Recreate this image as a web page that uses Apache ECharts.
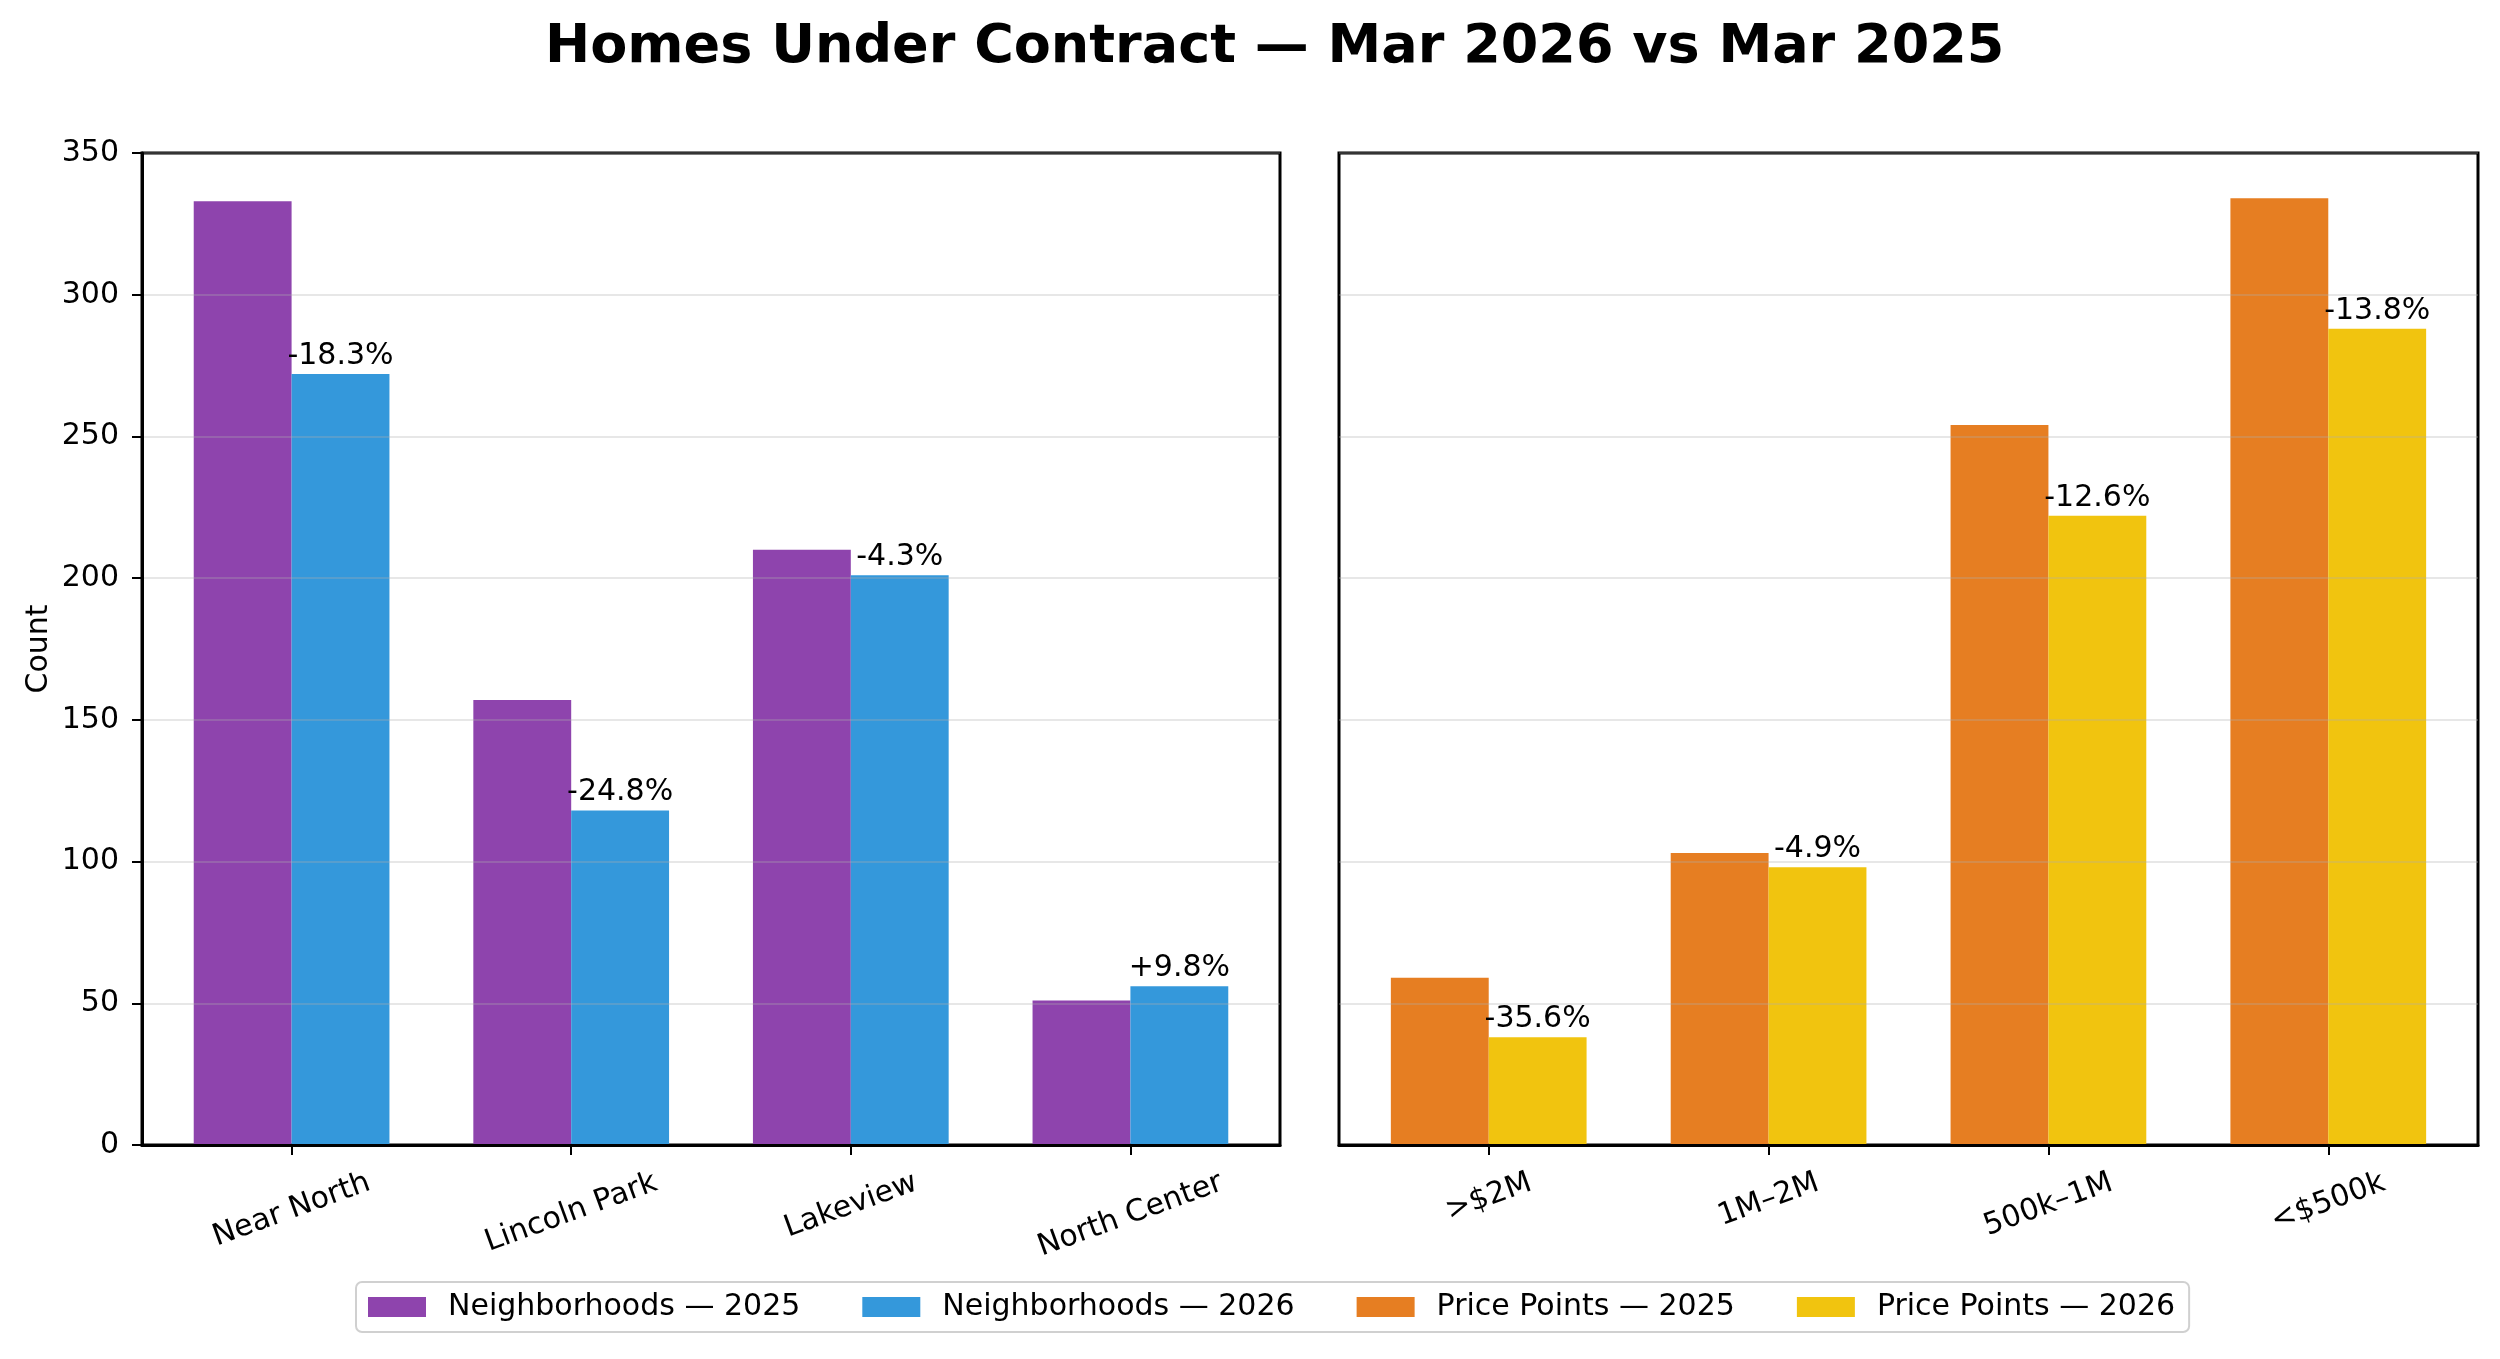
<!DOCTYPE html>
<html>
<head>
<meta charset="utf-8">
<script src="https://cdn.jsdelivr.net/npm/echarts@6/dist/echarts.min.js"></script>
<style>
html,body{margin:0;padding:0;background:#fff;}
#chart{width:2500px;height:1359px;}
</style>
</head>
<body>
<div id="chart"></div>
<script>
// ---- data ----
const neighborhoods = ['Near North', 'Lincoln Park', 'Lakeview', 'North Center'];
const nb2025 = [333, 157, 210, 51];
const nb2026 = [272, 118, 201, 56];
const pricePoints = ['>$2M', '1M–2M', '500k–1M', '<$500k'];
const pp2025 = [59, 103, 254, 334];
const pp2026 = [38, 98, 222, 288];
const seriesNames = ['Neighborhoods — 2025', 'Neighborhoods — 2026', 'Price Points — 2025', 'Price Points — 2026'];
const yMin = 0, yMax = 350, yStep = 50;
const titleText = 'Homes Under Contract — Mar 2026 vs Mar 2025';

// ---- helpers ----
const FONT = '"DejaVu Sans", sans-serif';
const FS = 30;
function pctLabels(a, b) {
  return b.map((v, i) => {
    const p = (v - a[i]) / a[i] * 100;
    return (p > 0 ? '+' : '') + p.toFixed(1) + '%';
  });
}
const nbPct = pctLabels(nb2025, nb2026);
const ppPct = pctLabels(pp2025, pp2026);

const ctx = document.createElement('canvas').getContext('2d');
ctx.font = FS + 'px "DejaVu Sans"';
function richFor(cats) {
  const r = {};
  cats.forEach((c, i) => {
    const w = ctx.measureText(c).width;
    const p = 0.3214 * w, q = 0.117 * w;
    r['l' + i] = {fontSize: FS, fontFamily: FONT, color: '#000', padding: [p, q, 0, 0]};
  });
  return r;
}

const GRID_W = 1138;
const XMIN = -0.535, XMAX = 3.535;
const barW = GRID_W / (XMAX - XMIN) * 0.35;
const ticksIdx = [0, 1, 2, 3];

function makeX(cats, gi) {
  return {
    type: 'value', gridIndex: gi, min: XMIN, max: XMAX, z: 6,
    axisLine: {show: true, onZero: false, lineStyle: {color: '#000', width: 3}},
    axisTick: {show: true, customValues: ticksIdx, length: 10, lineStyle: {color: '#000', width: 2}},
    axisLabel: {
      show: true, customValues: ticksIdx, rotate: 20, align: 'center', verticalAlign: 'middle',
      margin: 37, color: '#000', fontSize: FS, fontFamily: FONT,
      formatter: v => '{l' + Math.round(v) + '|' + cats[Math.round(v)] + '}',
      rich: richFor(cats)
    },
    splitLine: {show: false}
  };
}
const splitStyle = {show: true, lineStyle: {color: 'rgba(176,176,176,0.4)', width: 1.5}};

const option = {
  animation: false,
  backgroundColor: '#fff',
  textStyle: {fontFamily: FONT},
  title: {
    text: titleText, left: 545, top: 16, padding: 0,
    textStyle: {fontSize: 54, fontWeight: 'bold', color: '#000', fontFamily: FONT, lineHeight: 64}
  },
  legend: {
    data: seriesNames, left: 356, top: 1282, orient: 'horizontal',
    padding: [10, 14, 10, 12], itemGap: 62, itemWidth: 58, itemHeight: 20, icon: 'rect',
    borderColor: '#d0d0d0', borderWidth: 2, borderRadius: 6, backgroundColor: '#fff',
    textStyle: {fontSize: FS, color: '#000', fontFamily: FONT, padding: [0, 0, 0, 17]}
  },
  grid: [
    {left: 142, top: 153, width: GRID_W, height: 992, show: true, borderColor: '#000', borderWidth: 3, backgroundColor: 'transparent', containLabel: false, outerBoundsMode: 'none'},
    {left: 1339, top: 153, width: 1139, height: 992, show: true, borderColor: '#000', borderWidth: 3, backgroundColor: 'transparent', containLabel: false, outerBoundsMode: 'none'}
  ],
  xAxis: [makeX(neighborhoods, 0), makeX(pricePoints, 1)],
  yAxis: [
    {
      type: 'value', gridIndex: 0, min: yMin, max: yMax, interval: yStep, z: 3,
      name: 'Count', nameLocation: 'middle', nameGap: 88, nameRotate: 90,
      nameTextStyle: {fontSize: FS, color: '#000', fontFamily: FONT},
      axisLine: {show: true, onZero: false, lineStyle: {color: '#000', width: 3}},
      axisTick: {show: true, length: 10, lineStyle: {color: '#000', width: 2}},
      axisLabel: {color: '#000', fontSize: FS, fontFamily: FONT, margin: 23},
      splitLine: splitStyle
    },
    {
      type: 'value', gridIndex: 1, min: yMin, max: yMax, interval: yStep, z: 3,
      axisLine: {show: false, onZero: false}, axisTick: {show: false}, axisLabel: {show: false},
      splitLine: splitStyle
    }
  ],
  series: [
    {
      type: 'bar', name: seriesNames[0], xAxisIndex: 0, yAxisIndex: 0,
      data: nb2025.map((v, i) => [i, v]), barWidth: barW, barGap: '0%',
      itemStyle: {color: '#8e44ad'}
    },
    {
      type: 'bar', name: seriesNames[1], xAxisIndex: 0, yAxisIndex: 0,
      data: nb2026.map((v, i) => [i, v]), barWidth: barW, barGap: '0%',
      itemStyle: {color: '#3498db'},
      label: {show: true, position: 'top', distance: 3, fontSize: FS, color: '#000', fontFamily: FONT,
        formatter: p => nbPct[p.dataIndex]}
    },
    {
      type: 'bar', name: seriesNames[2], xAxisIndex: 1, yAxisIndex: 1,
      data: pp2025.map((v, i) => [i, v]), barWidth: barW, barGap: '0%',
      itemStyle: {color: '#e67e22'}
    },
    {
      type: 'bar', name: seriesNames[3], xAxisIndex: 1, yAxisIndex: 1,
      data: pp2026.map((v, i) => [i, v]), barWidth: barW, barGap: '0%',
      itemStyle: {color: '#f1c40f'},
      label: {show: true, position: 'top', distance: 3, fontSize: FS, color: '#000', fontFamily: FONT,
        formatter: p => ppPct[p.dataIndex]}
    }
  ]
};
const chart = echarts.init(document.getElementById('chart'), null, {renderer: 'canvas'});
chart.setOption(option);
</script>
</body>
</html>
